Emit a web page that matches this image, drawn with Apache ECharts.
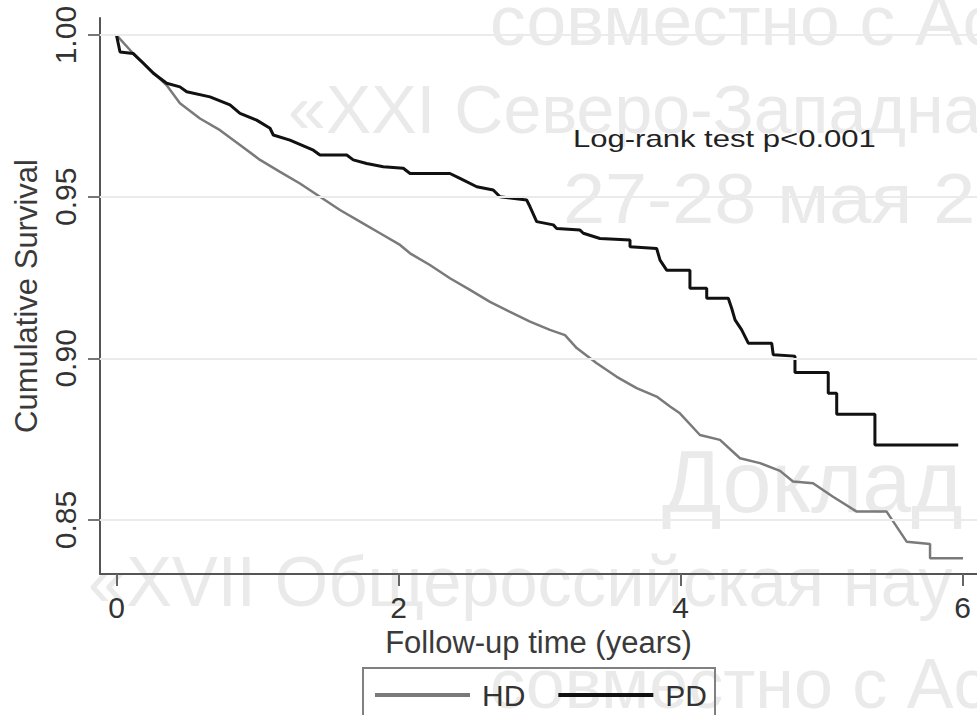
<!DOCTYPE html>
<html>
<head>
<meta charset="utf-8">
<script src="https://cdn.jsdelivr.net/npm/echarts@6/dist/echarts.min.js"></script>
<style>
html, body { margin: 0; padding: 0; background: #fff; }
#chart { width: 977px; height: 715px; }
</style>
</head>
<body>
<div id="chart"></div>
<script>
// Kaplan–Meier survival, haemodialysis (HD) vs peritoneal dialysis (PD)
const groupNames = ['HD', 'PD'];

const hdTime = [0, 0.117, 0.356, 0.450, 0.592, 0.734, 0.876, 1.018, 1.160, 1.301,
  1.443, 1.585, 1.727, 1.869, 2.011, 2.082, 2.223, 2.365, 2.507, 2.649,
  2.791, 2.933, 3.074, 3.181, 3.264, 3.406, 3.548, 3.689, 3.831, 3.926,
  3.996, 4.138, 4.280, 4.422, 4.564, 4.706, 4.798, 4.940, 5.082, 5.250,
  5.462, 5.604, 5.770, 5.770, 6.004];
const hdSurv = [1.000, 0.9944, 0.9845, 0.9789, 0.9742, 0.9706, 0.9660, 0.9614, 0.9577, 0.9541,
  0.9500, 0.9459, 0.9423, 0.9387, 0.9351, 0.9325, 0.9289, 0.9248, 0.9212, 0.9175,
  0.9144, 0.9114, 0.9088, 0.9072, 0.9032, 0.8985, 0.8943, 0.8908, 0.8882, 0.8851,
  0.8830, 0.8763, 0.8748, 0.8691, 0.8676, 0.8652, 0.8619, 0.8614, 0.8572, 0.8526,
  0.8526, 0.8433, 0.8426, 0.8382, 0.8382];

const pdTime = [0, 0.025, 0.119, 0.190, 0.261, 0.356, 0.450, 0.498, 0.663, 0.805,
  0.876, 0.994, 1.089, 1.112, 1.230, 1.396, 1.443, 1.633, 1.679, 1.774,
  1.892, 2.034, 2.082, 2.365, 2.436, 2.555, 2.672, 2.720, 2.909, 2.933,
  2.980, 3.098, 3.122, 3.287, 3.311, 3.429, 3.642, 3.642, 3.831, 3.855,
  3.902, 4.067, 4.067, 4.186, 4.186, 4.339, 4.363, 4.387, 4.434, 4.481,
  4.647, 4.658, 4.812, 4.812, 5.048, 5.048, 5.108, 5.108, 5.379, 5.379,
  5.970];
const pdSurv = [1.000, 0.9948, 0.9943, 0.9913, 0.9882, 0.9851, 0.9840, 0.9825, 0.9809, 0.9784,
  0.9758, 0.9737, 0.9712, 0.9691, 0.9675, 0.9644, 0.9629, 0.9629, 0.9614, 0.9603,
  0.9593, 0.9588, 0.9572, 0.9572, 0.9557, 0.9531, 0.9521, 0.9500, 0.9490, 0.9469,
  0.9423, 0.9413, 0.9402, 0.9397, 0.9387, 0.9371, 0.9366, 0.9345, 0.9340, 0.9304,
  0.9273, 0.9273, 0.9217, 0.9217, 0.9186, 0.9186, 0.9155, 0.9119, 0.9088, 0.9047,
  0.9047, 0.9011, 0.9007, 0.8956, 0.8956, 0.8892, 0.8892, 0.8827, 0.8827, 0.8732,
  0.8732];

const xTicks = [0, 2, 4, 6];
const yTicks = [0.85, 0.90, 0.95, 1.00];

const xAxisTitle = 'Follow-up time (years)';
const yAxisTitle = 'Cumulative Survival';
const testNote = 'Log-rank test p<0.001';

// conference watermark lines (y = top of the text box)
const wmLines = [
  { text: 'совместно с Ас', x: 490, y: -14, size: 70, sx: 1.02 },
  { text: '«XXI Северо-Западна', x: 288, y: 75, size: 68, sx: 1.0 },
  { text: '27-28 мая 2', x: 563, y: 163, size: 70, sx: 1.08 },
  { text: 'Доклад', x: 662, y: 437, size: 88, sx: 1.0 },
  { text: '«XVII Общероссийская нау', x: 88, y: 547, size: 70, sx: 0.98 },
  { text: 'совместно с Ас', x: 490, y: 649, size: 70, sx: 1.0 }
];

const FONT = "'Liberation Sans', Arial, Helvetica, sans-serif";
const zip = (a, b) => a.map((v, i) => [v, b[i]]);

const chart = echarts.init(document.getElementById('chart'), null, { renderer: 'svg' });

chart.setOption({
  backgroundColor: '#ffffff',
  animation: false,
  textStyle: { fontFamily: FONT },
  grid: { left: 100, top: 18, right: 0, bottom: 141, containLabel: false, outerBoundsMode: 'none' },
  xAxis: {
    type: 'value',
    min: -0.117,
    max: 6.103,
    name: xAxisTitle,
    nameLocation: 'middle',
    nameGap: 52,
    nameTextStyle: { fontSize: 31, color: '#3a3a3a', fontFamily: FONT },
    axisLine: { show: true, onZero: false, lineStyle: { color: '#555', width: 2 } },
    axisTick: { show: true, customValues: xTicks, length: 12, lineStyle: { color: '#666', width: 2 } },
    axisLabel: { customValues: xTicks, fontSize: 30, color: '#333', margin: 18, fontFamily: FONT },
    splitLine: { show: false }
  },
  yAxis: {
    type: 'value',
    min: 0.8333,
    max: 1.0053,
    name: yAxisTitle,
    nameLocation: 'middle',
    nameGap: 56,
    nameTextStyle: { fontSize: 31, color: '#3a3a3a', fontFamily: FONT },
    axisLine: { show: true, onZero: false, lineStyle: { color: '#555', width: 2 } },
    axisTick: { show: true, customValues: yTicks, length: 12, lineStyle: { color: '#777', width: 2 } },
    axisLabel: {
      customValues: yTicks, rotate: 90, fontSize: 30, color: '#333', margin: 20, fontFamily: FONT,
      formatter: v => v.toFixed(2)
    },
    splitLine: { show: false }
  },
  legend: {
    data: groupNames,
    left: 363,
    top: 668,
    orient: 'horizontal',
    padding: [12, 8, 12, 12],
    icon: 'rect',
    itemWidth: 95,
    itemHeight: 4,
    itemGap: 33,
    borderColor: '#808080',
    borderWidth: 2,
    textStyle: { fontSize: 30, color: '#333', fontFamily: FONT, padding: [0, 0, 0, 7] }
  },
  graphic: wmLines.map(w => ({
    type: 'text',
    x: w.x,
    y: w.y,
    scaleX: w.sx,
    z: 0,
    silent: true,
    style: { text: w.text, fontSize: w.size, fontFamily: FONT, fill: '#eaeaea', verticalAlign: 'top' }
  })).concat([{
    type: 'text',
    x: 573,
    y: 127,
    scaleX: 1.35,
    z: 10,
    style: { text: testNote, fontSize: 23, fontFamily: FONT, fill: '#222', verticalAlign: 'top' }
  }]),
  series: [
    {
      name: 'grid',
      type: 'line',
      data: [],
      z: 1,
      silent: true,
      markLine: {
        silent: true,
        symbol: 'none',
        label: { show: false },
        lineStyle: { color: '#ebebeb', width: 2, type: 'solid' },
        data: yTicks.map(v => ({ yAxis: v }))
      }
    },
    {
      name: groupNames[0],
      type: 'line',
      data: zip(hdTime, hdSurv),
      symbol: 'none',
      z: 3,
      lineStyle: { color: '#7a7a7a', width: 2.5 },
      itemStyle: { color: '#7a7a7a' }
    },
    {
      name: groupNames[1],
      type: 'line',
      data: zip(pdTime, pdSurv),
      symbol: 'none',
      z: 4,
      lineStyle: { color: '#111', width: 3 },
      itemStyle: { color: '#111' }
    }
  ]
});
</script>
</body>
</html>
